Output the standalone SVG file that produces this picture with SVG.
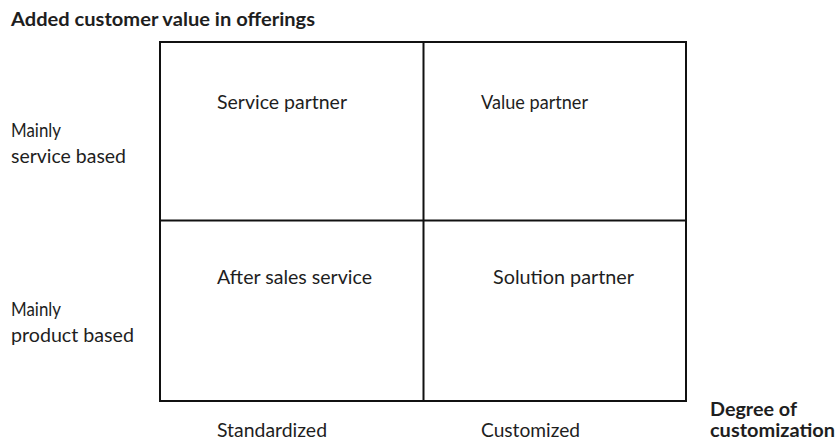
<svg xmlns="http://www.w3.org/2000/svg" width="836" height="441" viewBox="0 0 836 441">
  <style>
    text { font-family: Lato, "Liberation Sans", sans-serif; fill: #1e1e1e; }
    .lbl { font-size: 18.5px; }
    .bold { font-size: 18.5px; font-weight: bold; }
    .grid { fill: none; stroke: #111; stroke-width: 2; }
  </style>
  <rect width="836" height="441" fill="#fff"/>

  <!-- axis titles -->
  <g id="axis-y-title">
    <text class="bold" x="11" y="26" textLength="304" lengthAdjust="spacingAndGlyphs">Added customer value in offerings</text>
  </g>
  <g id="axis-x-title">
    <text class="bold" x="710" y="416" textLength="87" lengthAdjust="spacingAndGlyphs">Degree of</text>
    <text class="bold" x="710" y="437" textLength="125" lengthAdjust="spacingAndGlyphs">customization</text>
  </g>

  <!-- row labels -->
  <g id="row-service">
    <text class="lbl" x="11" y="137" textLength="50" lengthAdjust="spacingAndGlyphs">Mainly</text>
    <text class="lbl" x="11" y="163" textLength="115" lengthAdjust="spacingAndGlyphs">service based</text>
  </g>
  <g id="row-product">
    <text class="lbl" x="11" y="316" textLength="50" lengthAdjust="spacingAndGlyphs">Mainly</text>
    <text class="lbl" x="11" y="342" textLength="123" lengthAdjust="spacingAndGlyphs">product based</text>
  </g>

  <!-- column labels -->
  <g id="col-standardized">
    <text class="lbl" x="217" y="437" textLength="110" lengthAdjust="spacingAndGlyphs">Standardized</text>
  </g>
  <g id="col-customized">
    <text class="lbl" x="481" y="437" textLength="99" lengthAdjust="spacingAndGlyphs">Customized</text>
  </g>

  <!-- matrix lines -->
  <g id="connectors">
    <rect class="grid" x="160" y="42" width="526" height="359"/>
    <line class="grid" x1="423.5" y1="42" x2="423.5" y2="401"/>
    <line class="grid" x1="160" y1="220.5" x2="686" y2="220.5"/>
  </g>

  <!-- quadrants -->
  <g id="q-service-partner">
    <text class="lbl" x="217" y="109" textLength="130" lengthAdjust="spacingAndGlyphs">Service partner</text>
  </g>
  <g id="q-value-partner">
    <text class="lbl" x="481" y="109" textLength="107" lengthAdjust="spacingAndGlyphs">Value partner</text>
  </g>
  <g id="q-after-sales">
    <text class="lbl" x="217" y="284" textLength="155" lengthAdjust="spacingAndGlyphs">After sales service</text>
  </g>
  <g id="q-solution-partner">
    <text class="lbl" x="493" y="284" textLength="141" lengthAdjust="spacingAndGlyphs">Solution partner</text>
  </g>
</svg>
